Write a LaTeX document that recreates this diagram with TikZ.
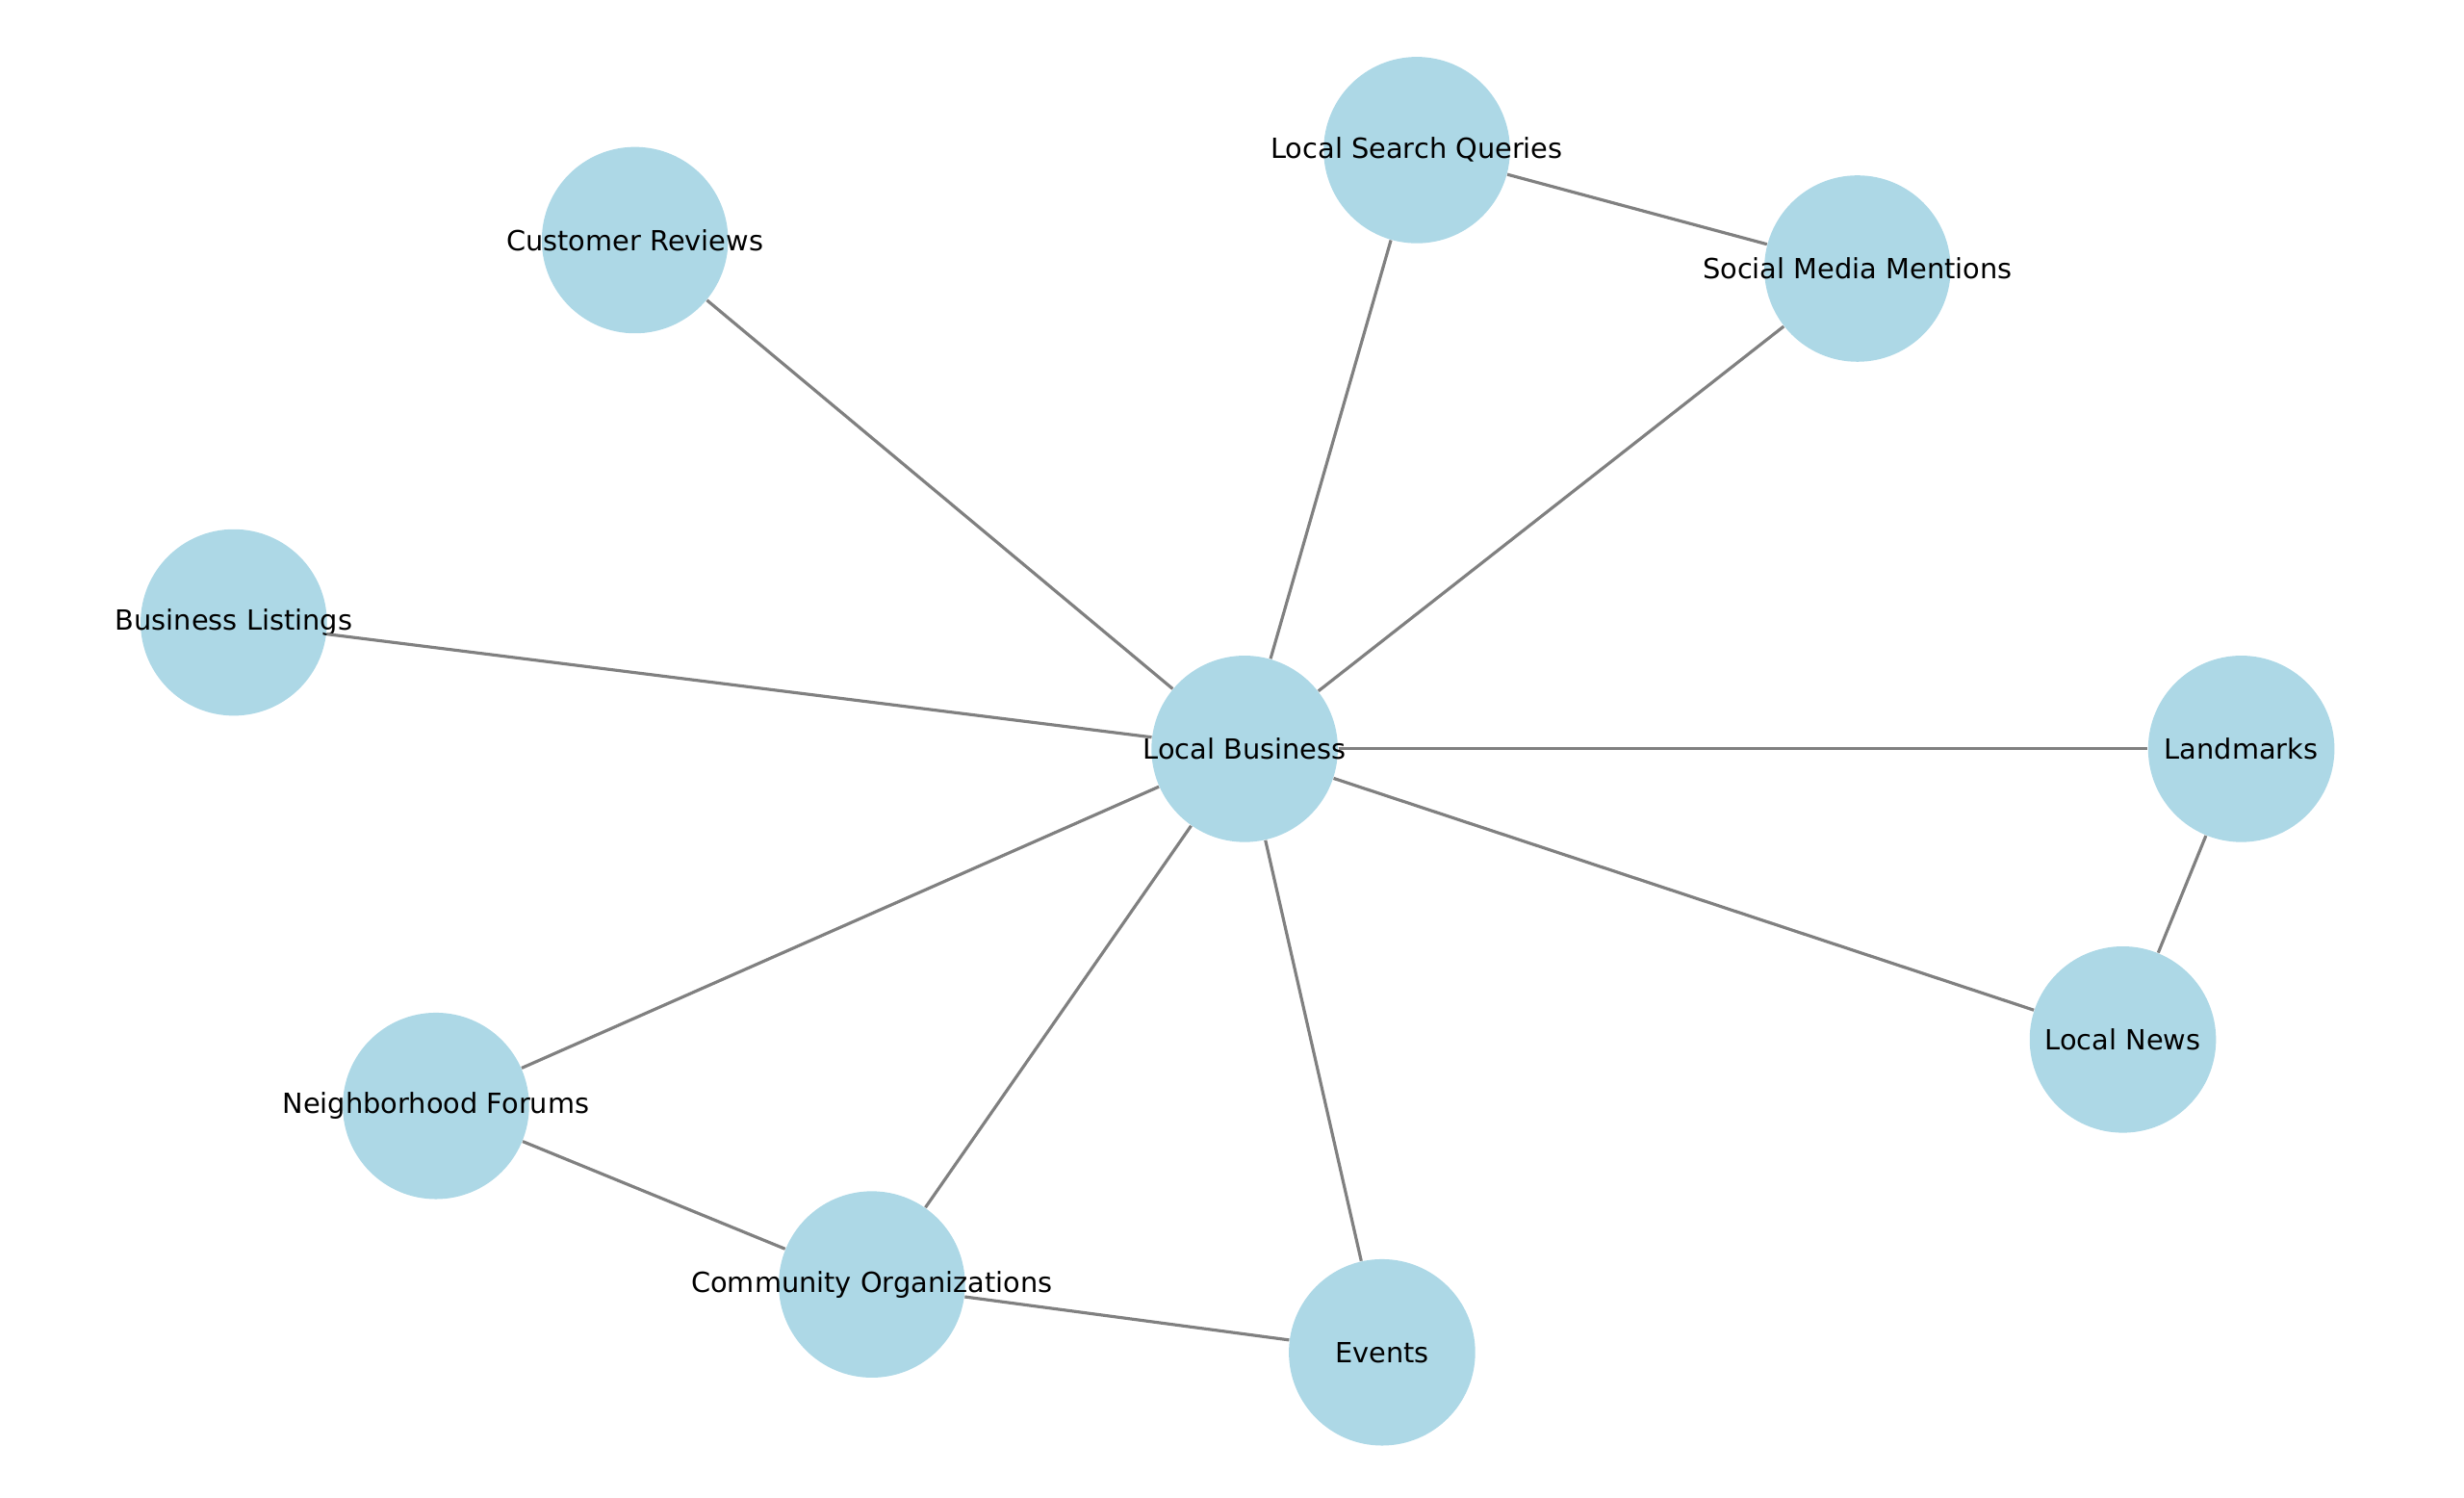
\documentclass[tikz,border=0pt]{standalone}
\usepackage{fontspec}
\setmainfont{DejaVu Sans}
\definecolor{nodeblue}{RGB}{173,216,230}
\definecolor{edgegray}{RGB}{128,128,128}
\begin{document}
\begin{tikzpicture}[
    x=0.02cm, y=-0.02cm,
    every node/.style={font=\fontsize{10}{12}\selectfont},
    topic/.style={circle, fill=nodeblue, minimum size=2.36cm, inner sep=0pt},
    link/.style={draw=edgegray, line width=1.1pt}
]
\useasboundingbox (0,0) rectangle (1560,947.6);

% Nodes
\node[topic, label=center:Local Business] (business) at (788,474) {};
\node[topic, label=center:Local Search Queries] (search) at (897,95) {};
\node[topic, label=center:Customer Reviews] (reviews) at (402,152) {};
\node[topic, label=center:Social Media Mentions] (social) at (1176,170) {};
\node[topic, label=center:Business Listings] (listings) at (148,394) {};
\node[topic, label=center:Landmarks] (landmarks) at (1419,474) {};
\node[topic, label=center:Local News] (news) at (1344,658) {};
\node[topic, label=center:Neighborhood Forums] (forums) at (276,700) {};
\node[topic, label=center:Community Organizations] (community) at (552,813) {};
\node[topic, label=center:Events] (events) at (875,856) {};

% Edges
\foreach \t in {search, reviews, social, listings, landmarks, news, forums, community, events}
    \draw[link] (business) -- (\t);
\draw[link] (search) -- (social);
\draw[link] (landmarks) -- (news);
\draw[link] (forums) -- (community);
\draw[link] (community) -- (events);

\end{tikzpicture}
\end{document}
